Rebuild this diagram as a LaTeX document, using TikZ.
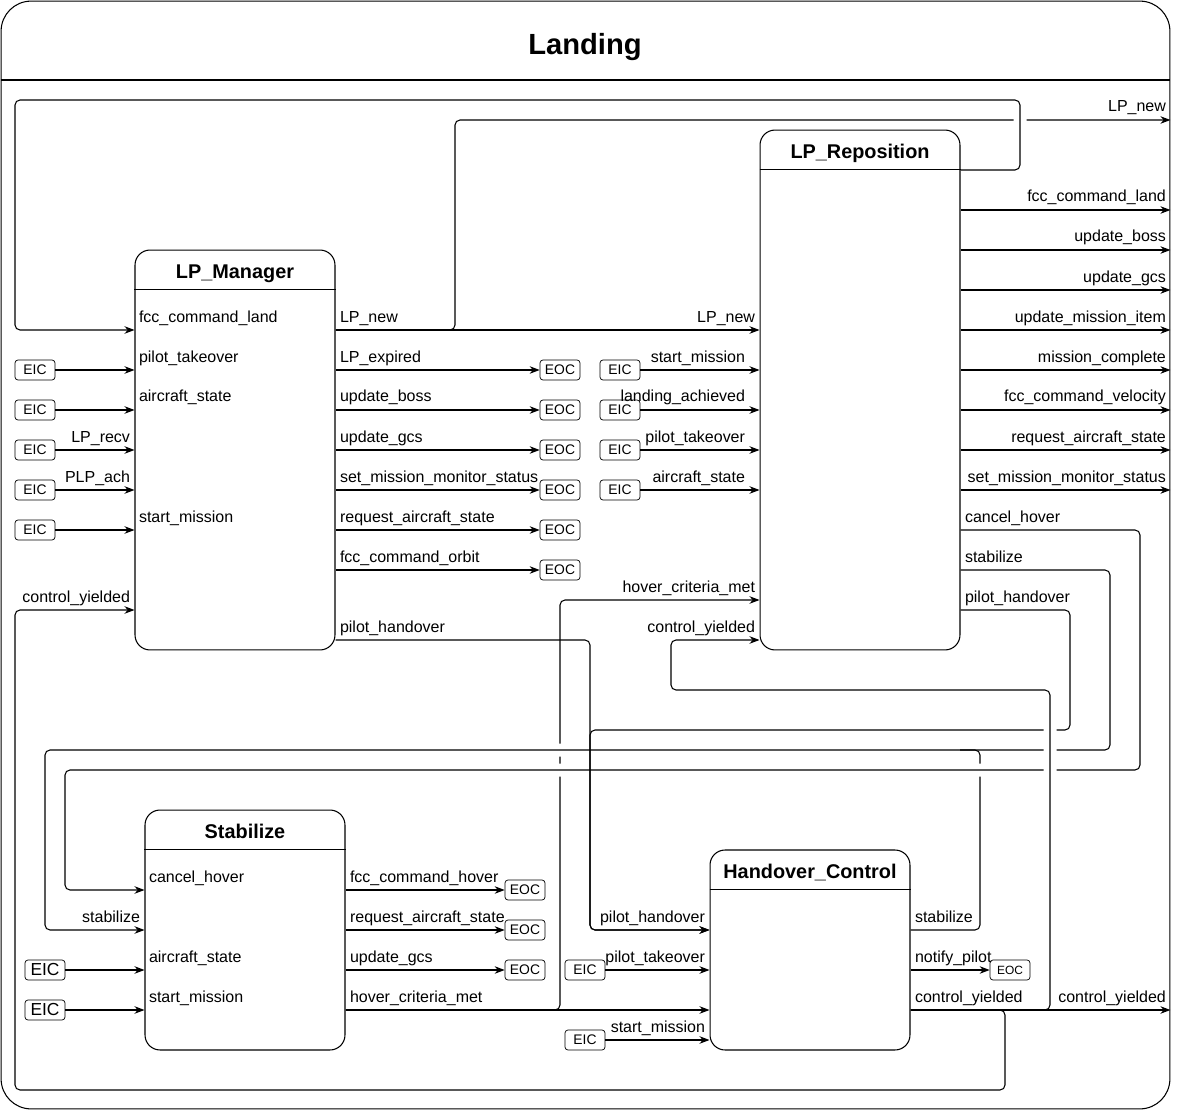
\documentclass[tikz,border=0pt]{standalone}
\usepackage{fontspec}
\setmainfont{Liberation Sans}
\usetikzlibrary{arrows.meta}
\pgfdeclarelayer{front}
\pgfsetlayers{main,front}

\begin{document}
\begin{tikzpicture}[
    x=0.02cm, y=-0.02cm,
    font=\fontsize{9.1}{11}\selectfont,
    module/.style={draw, semithick, rounded corners=0.3cm, minimum width=4cm, inner sep=0},
    modtitle/.style={anchor=base, yshift=-0.58cm, font=\bfseries\fontsize{11.3}{13}\selectfont},
    ext/.style={draw, rounded corners=0.06cm, minimum width=0.8cm, minimum height=0.4cm, inner sep=0, font=\fontsize{7.9}{9}\selectfont},
    arrow/.style={-{Stealth[length=0.2cm, width=0.15cm]}, semithick, rounded corners=0.1cm},
    wire/.style={semithick, rounded corners=0.1cm},
    gap/.style={preaction={draw=white, line width=0.26cm, -}},
    inl/.style={anchor=base west, inner sep=0, xshift=0.08cm, yshift=0.16cm},
    outl/.style={anchor=base east, inner sep=0, xshift=-0.08cm, yshift=0.16cm}
]
\useasboundingbox (0,0) rectangle (1180,1111);

% Frame and title
\node[draw, semithick, rounded corners=0.6cm, minimum width=23.38cm, minimum height=22.16cm, inner sep=0] (frame) at (585.5,555) {};
\node[anchor=base, font=\bfseries\fontsize{16.6}{20}\selectfont] (title) at (585,55) {Landing};
\draw[semithick] (frame.west |- 0,80) -- (frame.east |- 0,80);

% Modules
\begin{pgfonlayer}{front}
\node[module, minimum height=8cm] (mgr) at (235,450) {};
\node[modtitle] (mgr-title) at (mgr.north) {LP\_Manager};
\draw[semithick] ([yshift=-0.8cm]mgr.north west) -- ([yshift=-0.8cm]mgr.north east);

\node[module, minimum height=10.4cm] (rep) at (860,390) {};
\node[modtitle] (rep-title) at (rep.north) {LP\_Reposition};
\draw[semithick] ([yshift=-0.8cm]rep.north west) -- ([yshift=-0.8cm]rep.north east);

\node[module, minimum height=4.8cm] (stab) at (245,930) {};
\node[modtitle] (stab-title) at (stab.north) {Stabilize};
\draw[semithick] ([yshift=-0.8cm]stab.north west) -- ([yshift=-0.8cm]stab.north east);

\node[module, minimum height=4cm] (hand) at (810,950) {};
\node[modtitle] (hand-title) at (hand.north) {Handover\_Control};
\draw[semithick] ([yshift=-0.8cm]hand.north west) -- ([yshift=-0.8cm]hand.north east);
\end{pgfonlayer}

% Ports used by long connectors
\coordinate (mgr-in1) at (mgr.west |- 0,330);
\coordinate (mgr-cy) at (mgr.west |- 0,610);
\coordinate (mgr-lpnew) at (mgr.east |- 0,330);
\coordinate (mgr-ph) at (mgr.east |- 0,640);
\coordinate (rep-lpnew) at (rep.west |- 0,330);
\coordinate (rep-hover) at (rep.west |- 0,600);
\coordinate (rep-cy) at (rep.west |- 0,640);
\coordinate (rep-top) at (rep.east |- 0,170);
\coordinate (rep-cancel) at (rep.east |- 0,530);
\coordinate (rep-stab) at (rep.east |- 0,570);
\coordinate (rep-ph) at (rep.east |- 0,610);
\coordinate (stab-cancel) at (stab.west |- 0,890);
\coordinate (stab-stab) at (stab.west |- 0,930);
\coordinate (stab-hover) at (stab.east |- 0,1010);
\coordinate (hand-ph) at (hand.west |- 0,930);
\coordinate (hand-hover) at (hand.west |- 0,1010);
\coordinate (hand-stab) at (hand.east |- 0,930);
\coordinate (hand-cy) at (hand.east |- 0,1010);

% LP_Manager inputs
\node[ext] (mgr-eic1) at (35,370) {EIC};
\node[ext] (mgr-eic2) at (35,410) {EIC};
\node[ext] (mgr-eic3) at (35,450) {EIC};
\node[ext] (mgr-eic4) at (35,490) {EIC};
\node[ext] (mgr-eic5) at (35,530) {EIC};
\draw[arrow] (mgr-eic1) -- (mgr.west |- mgr-eic1) node[at end, inl] {pilot\_takeover};
\draw[arrow] (mgr-eic2) -- (mgr.west |- mgr-eic2) node[at end, inl] {aircraft\_state};
\draw[arrow] (mgr-eic3) -- (mgr.west |- mgr-eic3) node[at end, outl] {LP\_recv};
\draw[arrow] (mgr-eic4) -- (mgr.west |- mgr-eic4) node[at end, outl] {PLP\_ach};
\draw[arrow] (mgr-eic5) -- (mgr.west |- mgr-eic5) node[at end, inl] {start\_mission};

% LP_Manager outputs
\node[ext] (mgr-eoc1) at (560,370) {EOC};
\node[ext] (mgr-eoc2) at (560,410) {EOC};
\node[ext] (mgr-eoc3) at (560,450) {EOC};
\node[ext] (mgr-eoc4) at (560,490) {EOC};
\node[ext] (mgr-eoc5) at (560,530) {EOC};
\node[ext] (mgr-eoc6) at (560,570) {EOC};
\draw[arrow] (mgr.east |- mgr-eoc1) -- (mgr-eoc1) node[at start, inl] {LP\_expired};
\draw[arrow] (mgr.east |- mgr-eoc2) -- (mgr-eoc2) node[at start, inl] {update\_boss};
\draw[arrow] (mgr.east |- mgr-eoc3) -- (mgr-eoc3) node[at start, inl] {update\_gcs};
\draw[arrow] (mgr.east |- mgr-eoc4) -- (mgr-eoc4) node[at start, inl] {set\_mission\_monitor\_status};
\draw[arrow] (mgr.east |- mgr-eoc5) -- (mgr-eoc5) node[at start, inl] {request\_aircraft\_state};
\draw[arrow] (mgr.east |- mgr-eoc6) -- (mgr-eoc6) node[at start, inl] {fcc\_command\_orbit};

% LP_new
\draw[arrow] (mgr-lpnew) -- (rep-lpnew) node[at start, inl] {LP\_new} node[at end, outl] {LP\_new};
\draw[arrow] (mgr-lpnew) -- (455,330) -- (455,120) -- (frame.east |- 0,120) node[at end, outl] {LP\_new};

% LP_Reposition inputs
\node[ext] (rep-eic1) at (620,370) {EIC};
\node[ext] (rep-eic2) at (620,410) {EIC};
\node[ext] (rep-eic3) at (620,450) {EIC};
\node[ext] (rep-eic4) at (620,490) {EIC};
\draw[arrow] (rep-eic1) -- (rep.west |- rep-eic1) node[at end, outl, xshift=-0.2cm] {start\_mission};
\draw[arrow] (rep-eic2) -- (rep.west |- rep-eic2) node[at end, outl, xshift=-0.2cm] {landing\_achieved};
\draw[arrow] (rep-eic3) -- (rep.west |- rep-eic3) node[at end, outl, xshift=-0.2cm] {pilot\_takeover};
\draw[arrow] (rep-eic4) -- (rep.west |- rep-eic4) node[at end, outl, xshift=-0.2cm] {aircraft\_state};

% LP_Reposition outputs
\draw[arrow] (rep.east |- 0,210) -- (frame.east |- 0,210) node[at end, outl] {fcc\_command\_land};
\draw[arrow] (rep.east |- 0,250) -- (frame.east |- 0,250) node[at end, outl] {update\_boss};
\draw[arrow] (rep.east |- 0,290) -- (frame.east |- 0,290) node[at end, outl] {update\_gcs};
\draw[arrow] (rep.east |- 0,330) -- (frame.east |- 0,330) node[at end, outl] {update\_mission\_item};
\draw[arrow] (rep.east |- 0,370) -- (frame.east |- 0,370) node[at end, outl] {mission\_complete};
\draw[arrow] (rep.east |- 0,410) -- (frame.east |- 0,410) node[at end, outl] {fcc\_command\_velocity};
\draw[arrow] (rep.east |- 0,450) -- (frame.east |- 0,450) node[at end, outl] {request\_aircraft\_state};
\draw[arrow] (rep.east |- 0,490) -- (frame.east |- 0,490) node[at end, outl] {set\_mission\_monitor\_status};

% Stabilize inputs and outputs
\node[ext, font=\fontsize{9.9}{11}\selectfont] (stab-eic1) at (45,970) {EIC};
\node[ext, font=\fontsize{9.9}{11}\selectfont] (stab-eic2) at (45,1010) {EIC};
\draw[arrow] (stab-eic1) -- (stab.west |- stab-eic1) node[at end, inl] {aircraft\_state};
\draw[arrow] (stab-eic2) -- (stab.west |- stab-eic2) node[at end, inl] {start\_mission};
\node[ext] (stab-eoc1) at (525,890) {EOC};
\node[ext] (stab-eoc2) at (525,930) {EOC};
\node[ext] (stab-eoc3) at (525,970) {EOC};
\draw[arrow] (stab.east |- stab-eoc1) -- (stab-eoc1) node[at start, inl] {fcc\_command\_hover};
\draw[arrow] (stab.east |- stab-eoc2) -- (stab-eoc2) node[at start, inl] {request\_aircraft\_state};
\draw[arrow] (stab.east |- stab-eoc3) -- (stab-eoc3) node[at start, inl] {update\_gcs};

% Handover_Control inputs and outputs
\node[ext] (hand-eic1) at (585,970) {EIC};
\node[ext] (hand-eic2) at (585,1040) {EIC};
\draw[arrow] (hand-eic1) -- (hand.west |- hand-eic1) node[at end, outl] {pilot\_takeover};
\draw[arrow] (hand-eic2) -- (hand.west |- hand-eic2) node[at end, outl] {start\_mission};
\node[ext, font=\fontsize{6.8}{8}\selectfont] (hand-eoc1) at (1010,970) {EOC};
\draw[arrow] (hand.east |- hand-eoc1) -- (hand-eoc1) node[at start, inl] {notify\_pilot};

% hover_criteria_met
\draw[arrow] (stab-hover) node[inl] {hover\_criteria\_met} -- (560,1010) -- (560,600) -- (rep-hover) node[at end, outl] {hover\_criteria\_met};
\draw[arrow] (stab-hover) -- (hand-hover);

% fcc_command_land loop back to LP_Manager
\draw[arrow, gap] (rep-top) -- (1020,170) -- (1020,100) -- (15,100) -- (15,330) -- (mgr-in1) node[at end, inl] {fcc\_command\_land};

% stabilize
\draw[arrow, gap] (rep-stab) node[inl] {stabilize} -- (1110,570) -- (1110,750) -- (45,750) -- (45,930) -- (stab-stab) node[at end, outl] {stabilize};
\draw[wire] (hand-stab) node[inl] {stabilize} -- (980,930) -- (980,750) -- (960,750);

% cancel_hover
\draw[arrow, gap] (rep-cancel) node[inl] {cancel\_hover} -- (1140,530) -- (1140,770) -- (65,770) -- (65,890) -- (stab-cancel) node[at end, inl] {cancel\_hover};

% pilot_handover
\draw[arrow] (mgr-ph) node[inl] {pilot\_handover} -- (590,640) -- (590,930) -- (hand-ph);
\draw[arrow] (rep-ph) node[inl] {pilot\_handover} -- (1070,610) -- (1070,730) -- (590,730) -- (590,930) -- (hand-ph) node[at end, outl] {pilot\_handover};

% control_yielded
\draw[arrow, gap] (hand-cy) -- (1050,1010) -- (1050,690) -- (671,690) -- (671,640) -- (rep-cy) node[at end, outl] {control\_yielded};
\draw[arrow] (hand-cy) -- (frame.east |- hand-cy) node[at start, inl] {control\_yielded} node[at end, outl] {control\_yielded};
\draw[arrow] (hand-cy) -- (1005,1010) -- (1005,1090) -- (15,1090) -- (15,610) -- (mgr-cy) node[at end, outl] {control\_yielded};

\end{tikzpicture}
\end{document}
